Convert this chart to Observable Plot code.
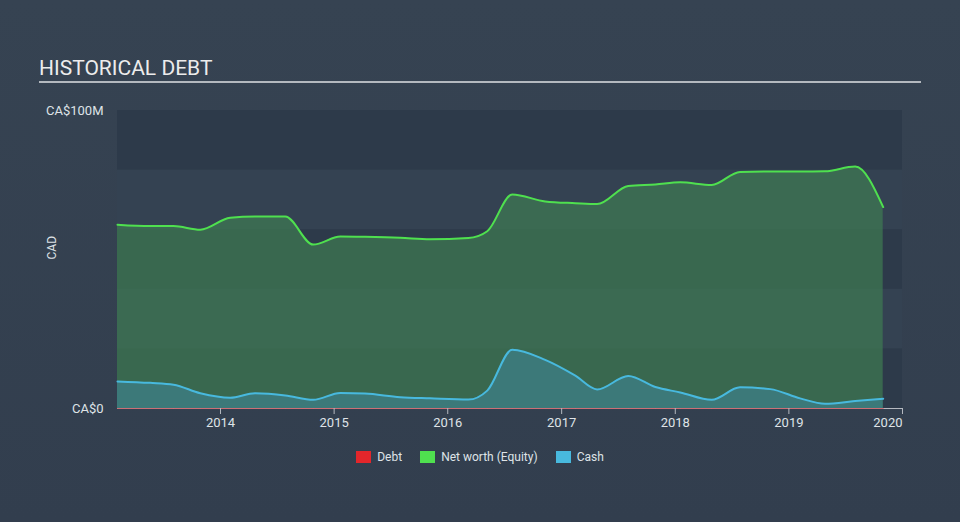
<!DOCTYPE html>
<html>
<head>
<meta charset="utf-8">
<script src="https://cdn.jsdelivr.net/npm/d3@7"></script>
<script src="https://cdn.jsdelivr.net/npm/@observablehq/plot@0.6"></script>
<style>
  html, body { margin: 0; padding: 0; }
  body {
    width: 960px; height: 522px; overflow: hidden; position: relative;
    background: linear-gradient(to bottom, #364352 0%, #323e4e 100%);
    font-family: Roboto, "Open Sans", sans-serif;
  }
  #title {
    position: absolute; left: 39px; top: 56px; width: 882px;
    color: #ececec; font-size: 21px; line-height: 24px;
    padding-bottom: 1px; border-bottom: 2px solid #b4b9bf;
  }
  #chart { position: absolute; left: 0; top: 90px; }
  #legend {
    position: absolute; left: 0; top: 450px; width: 960px;
    display: flex; justify-content: center; gap: 0; color: #dfe3e7; font-size: 12px;
  }
  .item { display: flex; align-items: center; margin: 0 9px; }
  .sw { width: 15px; height: 12px; margin-right: 6px; }
</style>
</head>
<body>
<div id="title">HISTORICAL DEBT</div>
<div id="chart"></div>
<div id="legend"></div>
<script>
// ---- data ----
const dates = ["2013-02-04","2013-05-20","2013-08-03","2013-10-28","2014-02-01","2014-04-22",
  "2014-07-28","2014-10-26","2015-01-21","2015-04-10","2015-08-01","2015-11-05","2016-03-07",
  "2016-05-07","2016-07-26","2016-11-09","2017-02-14","2017-04-25","2017-08-03","2017-10-29",
  "2018-01-17","2018-04-28","2018-07-28","2018-11-02","2019-02-06","2019-04-27","2019-08-02","2019-10-31"];
const netWorth = [61.7,61.2,61.2,60.0,64.0,64.4,64.4,55.0,57.7,57.6,57.3,56.8,57.2,
  59.5,71.8,69.5,68.9,68.6,74.7,75.2,75.9,75.0,79.4,79.5,79.5,79.6,81.2,67.6];
const cash = [9.1,8.6,8.0,5.1,3.6,5.1,4.4,2.9,5.2,5.0,3.8,3.4,3.0,
  6.0,19.7,16.3,11.0,6.4,10.9,7.2,5.4,2.9,7.1,6.5,3.4,1.6,2.5,3.3];
const debt = dates.map(() => 0);
const seriesNames = ["Debt", "Net worth (Equity)", "Cash"];
const seriesColors = ["#e3262b", "#4fe04f", "#48b9de"];
const yTicks = [0, 100];
const yTickLabels = ["CA$0", "CA$100M"];
const xTickYears = [2014, 2015, 2016, 2017, 2018, 2019];
const xLastTickYear = 2020;
const bandLows = [0, 40, 80];
const bandSize = 20;
const xDomain = ["2013-02-04", "2020-01-01"];
const yLabel = "CAD";

// ---- build ----
const rows = dates.map((d, i) => ({date: new Date(d), netWorth: netWorth[i], cash: cash[i], debt: debt[i]}));
const bands = bandLows.map(v => ({y1: v, y2: v + bandSize}));
const curve = "monotone-x";
const yearDate = y => new Date(Date.UTC(y, 0, 1));
const axisStyle = {tickFormat: d => String(d.getUTCFullYear()), tickSize: 6, tickPadding: 3,
  stroke: "#b5b9c0", fill: "#dfe3e7", fontSize: 13, label: null};

const plot = Plot.plot({
  width: 960,
  height: 350,
  marginLeft: 117,
  marginRight: 58,
  marginTop: 20,
  marginBottom: 32,
  style: {background: "transparent", color: "#dfe3e7", fontFamily: "Roboto, sans-serif", fontSize: "13px"},
  x: {type: "utc", domain: xDomain.map(d => new Date(d))},
  y: {domain: [0, 100]},
  marks: [
    Plot.rect([{}], {y1: 0, y2: 100, fill: "#344252"}),
    Plot.rect(bands, {y1: "y1", y2: "y2", fill: "#2d3a4a"}),
    Plot.areaY(rows, {x: "date", y: "netWorth", curve, fill: "#3f7a52", fillOpacity: 0.72}),
    Plot.areaY(rows, {x: "date", y: "cash", curve, fill: "#3d7b7d", fillOpacity: 0.9}),
    Plot.ruleY([0], {stroke: "#b5b9c0", strokeWidth: 1}),
    Plot.lineY(rows, {x: "date", y: "netWorth", curve, stroke: seriesColors[1], strokeWidth: 2}),
    Plot.lineY(rows, {x: "date", y: "cash", curve, stroke: seriesColors[2], strokeWidth: 2}),
    Plot.lineY(rows, {x: "date", y: "debt", stroke: seriesColors[0], strokeWidth: 1, strokeOpacity: 0.5}),
    Plot.axisX({...axisStyle, ticks: xTickYears.map(yearDate)}),
    Plot.axisX({...axisStyle, ticks: [yearDate(xLastTickYear)], textAnchor: "end"}),
    Plot.axisY({ticks: yTicks, tickFormat: (d) => yTickLabels[yTicks.indexOf(d)], tickSize: 0, tickPadding: 14,
      fill: "#dfe3e7", fontSize: 13, label: null}),
    Plot.text([yLabel], {frameAnchor: "left", dx: -65, rotate: -90, fill: "#dfe3e7", fontSize: 12, text: d => d})
  ]
});
document.getElementById("chart").appendChild(plot);

const legend = document.getElementById("legend");
seriesNames.forEach((n, i) => {
  const it = document.createElement("div");
  it.className = "item";
  it.innerHTML = `<span class="sw" style="background:${seriesColors[i]}"></span><span>${n}</span>`;
  legend.appendChild(it);
});
</script>
</body>
</html>
